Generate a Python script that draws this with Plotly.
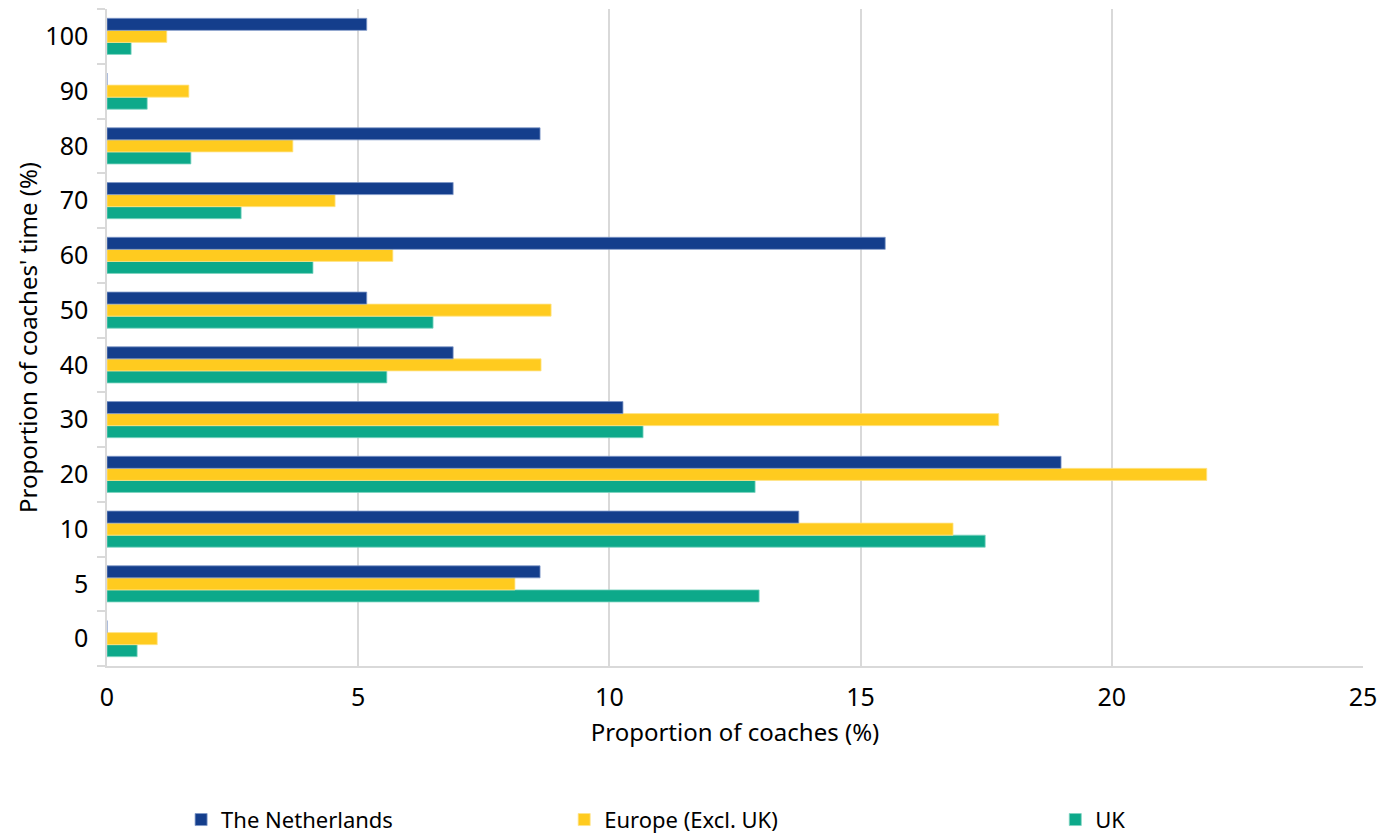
import plotly.graph_objects as go

categories = ["0", "5", "10", "20", "30", "40", "50", "60", "70", "80", "90", "100"]
netherlands = [0, 8.62, 13.77, 18.99, 10.27, 6.89, 5.17, 15.49, 6.89, 8.62, 0, 5.17]
europe = [1.0, 8.12, 16.84, 21.89, 17.75, 8.64, 8.84, 5.69, 4.54, 3.70, 1.63, 1.19]
uk = [0.6, 12.98, 17.48, 12.90, 10.67, 5.57, 6.49, 4.10, 2.67, 1.67, 0.80, 0.48]

series_names = ["The Netherlands", "Europe (Excl. UK)", "UK"]
colors = ["#143E8C", "#FFCB1F", "#0DA98A"]
outline = ["#7F98C8", "#FFE48A", "#7FD4C2"]

FONT = "Noto Sans"
fig = go.Figure()
data = [netherlands, europe, uk]
legends = ["legend", "legend2", "legend3"]
for i in [2, 1, 0]:
    fig.add_trace(go.Bar(
        y=categories, x=data[i], orientation="h", name=series_names[i],
        marker=dict(color=colors[i], line=dict(color=outline[i], width=0.8)),
        legend=legends[i], showlegend=True,
    ))

leg_common = dict(orientation="h", yanchor="middle", y=-0.234, xanchor="left",
                  font=dict(family=FONT, size=22, color="#000"), bgcolor="rgba(0,0,0,0)",
                  visible=True)
fig.update_layout(
    width=1399, height=836,
    margin=dict(l=99, r=44, t=1, b=178, autoexpand=False),
    showlegend=True,
    plot_bgcolor="white", paper_bgcolor="white",
    barmode="group", bargap=0.34, bargroupgap=0,
    font=dict(family=FONT, color="#000"),
    legend=dict(x=0.059, **leg_common),
    legend2=dict(x=0.364, **leg_common),
    legend3=dict(x=0.755, **leg_common),
    xaxis=dict(range=[0, 25], dtick=5, showgrid=True, gridcolor="#D9D9D9", gridwidth=1.5,
               zeroline=False, showline=True, linecolor="#D9D9D9", linewidth=1.5,
               automargin=False, ticks="", ticklabelstandoff=8,
               tickfont=dict(family=FONT, size=25),
               title=dict(text="Proportion of coaches (%)", font=dict(family=FONT, size=24), standoff=12)),
    yaxis=dict(type="category", categoryorder="array", categoryarray=categories,
               range=[-0.5, 11.5], showgrid=False, showline=True, linecolor="#D9D9D9", linewidth=1.5,
               automargin=False,
               tickson="boundaries", ticks="outside", ticklen=8, tickcolor="#D9D9D9", tickwidth=1.5,
               ticklabelstandoff=12,
               tickfont=dict(family=FONT, size=25),
               title=dict(text="Proportion of coaches' time (%)", font=dict(family=FONT, size=24), standoff=1)),
)
fig.write_html("out.html")
